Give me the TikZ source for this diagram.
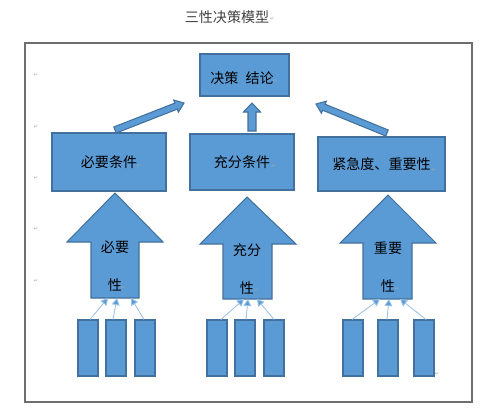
\documentclass[tikz,border=0pt]{standalone}
\usepackage{fontspec}
\newfontfamily\cjk{Noto Sans CJK SC}
\newfontfamily\symf{DejaVu Sans}
\usetikzlibrary{calc,arrows.meta}
\definecolor{boxfill}{HTML}{5B9BD5}
\definecolor{boxline}{HTML}{41719C}
\definecolor{thinline}{HTML}{9DC3E6}
\definecolor{framegray}{HTML}{6E6E6E}
\definecolor{titlegray}{HTML}{404040}
\tikzset{
  bluebox/.style={fill=boxfill, draw=boxline, line width=0.6pt},
  mainbox/.style={bluebox, inner sep=0pt, font=\cjk\fontsize{8}{10}\selectfont, text=black},
  barbox/.style={bluebox, inner sep=0pt, minimum width=0.4cm, minimum height=1.12cm},
  arrowtext/.style={font=\cjk\fontsize{8}{10}\selectfont, text=black, inner sep=0pt},
  feeder/.style={draw=thinline, line width=0.5pt, -{Triangle[fill=boxfill,length=4pt,width=4.5pt]}},
  pmark/.style={font=\symf\fontsize{3}{3}\selectfont, text=gray!70, inner sep=0pt},
}
% block arrow: #1 start, #2 end, #3 name, #4 shaft half, #5 head half, #6 head length
\newcommand\blockarr[6]{%
  \coordinate (#3h) at ($(#2)!#6!(#1)$);
  \path[bluebox] ($(#1)!#4!90:(#2)$) -- ($(#3h)!#4!-90:(#1)$) -- ($(#3h)!#5!-90:(#1)$)
    -- (#2) -- ($(#3h)!#5!90:(#1)$) -- ($(#3h)!#4!90:(#1)$) -- ($(#1)!#4!-90:(#2)$) -- cycle;
}
\begin{document}
\begin{tikzpicture}[x=0.02cm,y=-0.02cm]
\useasboundingbox (0,0) rectangle (500,417);
% title
\node[font=\cjk\fontsize{8}{10}\selectfont, text=titlegray, inner sep=0pt] (title) at (227,17) {三性决策模型};
\node[pmark] (pm0) at (272,19) {↵};
% frame
\draw[framegray, line width=0.8pt] (25,43) rectangle (472,402);
% paragraph marks at the left
\node[pmark] (pm1) at (36,75) {↵};
\node[pmark] (pm2) at (36,127) {↵};
\node[pmark] (pm3) at (36,178) {↵};
\node[pmark] (pm4) at (36,229) {↵};
\node[pmark] (pm5) at (36,281) {↵};
\node[pmark] (pm6) at (437,374) {↵};
% top box
\node[mainbox, minimum width=1.78cm, minimum height=0.84cm] (top) at (244.5,75) {};
\node[arrowtext] (toptext) at (242,78) {决策\hspace{0.5em}结论};
\node[pmark] (pmt) at (275,81) {↵};
% middle row
\node[mainbox, minimum width=2.28cm, minimum height=1.16cm] (b1) at (109,162) {必要条件};
\node[mainbox, minimum width=2.08cm, minimum height=1.12cm] (b2) at (242,162) {充分条件};
\node[mainbox, minimum width=2.54cm, minimum height=1.08cm] (b3) at (381.5,164) {紧急度、重要性};
\node[pmark] (pmb1) at (139,166) {↵};
\node[pmark] (pmb2) at (274,166) {↵};
\node[pmark] (pmb3) at (434,170) {↵};
% block arrows to top
\coordinate (la) at (115,130);
\coordinate (lb) at (184,103);
\blockarr{la}{lb}{L}{0.065cm}{0.13cm}{0.17cm}
\coordinate (ma) at (252,131);
\coordinate (mb) at (252,103);
\blockarr{ma}{mb}{M}{0.08cm}{0.17cm}{0.18cm}
\coordinate (ra) at (387,133);
\coordinate (rb) at (316,104);
\blockarr{ra}{rb}{R}{0.065cm}{0.13cm}{0.17cm}
% big up arrows
\path[bluebox] (91,298) -- (91,242) -- (67,242) -- (115,193) -- (163,242) -- (139,242) -- (139,298) -- cycle;
\path[bluebox] (223,299) -- (223,244) -- (200,244) -- (247,197) -- (296,244) -- (272,244) -- (272,299) -- cycle;
\path[bluebox] (363,299) -- (363,243) -- (340,243) -- (388,195) -- (436,243) -- (412,243) -- (412,299) -- cycle;
\node[arrowtext] (t1a) at (115,247) {必要};
\node[arrowtext] (t1b) at (115,285) {性};
\node[arrowtext] (t2a) at (247,250) {充分};
\node[arrowtext] (t2b) at (247,288) {性};
\node[arrowtext] (t3a) at (388,248) {重要};
\node[arrowtext] (t3b) at (388,286) {性};
\node[pmark] (pma1) at (123,288) {↵};
\node[pmark] (pma2) at (256,290) {↵};
\node[pmark] (pma3) at (397,289) {↵};
% bars
\node[barbox] (r1) at (88,348) {};
\node[barbox] (r2) at (116,348) {};
\node[barbox] (r3) at (145,348) {};
\node[barbox] (r4) at (217,348) {};
\node[barbox] (r5) at (245,348) {};
\node[barbox] (r6) at (274,348) {};
\node[barbox] (r7) at (353,348) {};
\node[barbox] (r8) at (388,348) {};
\node[barbox] (r9) at (424,348) {};
% feeder endpoints at arrow bottoms
\coordinate (e1) at (108,298);
\coordinate (e2) at (117,298);
\coordinate (e3) at (131,298);
\coordinate (e4) at (244,299);
\coordinate (e5) at (248,299);
\coordinate (e6) at (257,299);
\coordinate (e7) at (380,299);
\coordinate (e8) at (389,299);
\coordinate (e9) at (400,299);
\draw[feeder] ([xshift=0.04cm]r1.north) -- (e1);
\draw[feeder] ([xshift=-0.06cm]r2.north) -- (e2);
\draw[feeder] ([xshift=-0.02cm]r3.north) -- (e3);
\draw[feeder] ([xshift=0.08cm]r4.north) -- (e4);
\draw[feeder] ([xshift=0.02cm]r5.north) -- (e5);
\draw[feeder] (r6.north) -- (e6);
\draw[feeder] ([xshift=-0.02cm]r7.north) -- (e7);
\draw[feeder] ([xshift=-0.02cm]r8.north) -- (e8);
\draw[feeder] ([xshift=0.04cm]r9.north) -- (e9);
\end{tikzpicture}
\end{document}
